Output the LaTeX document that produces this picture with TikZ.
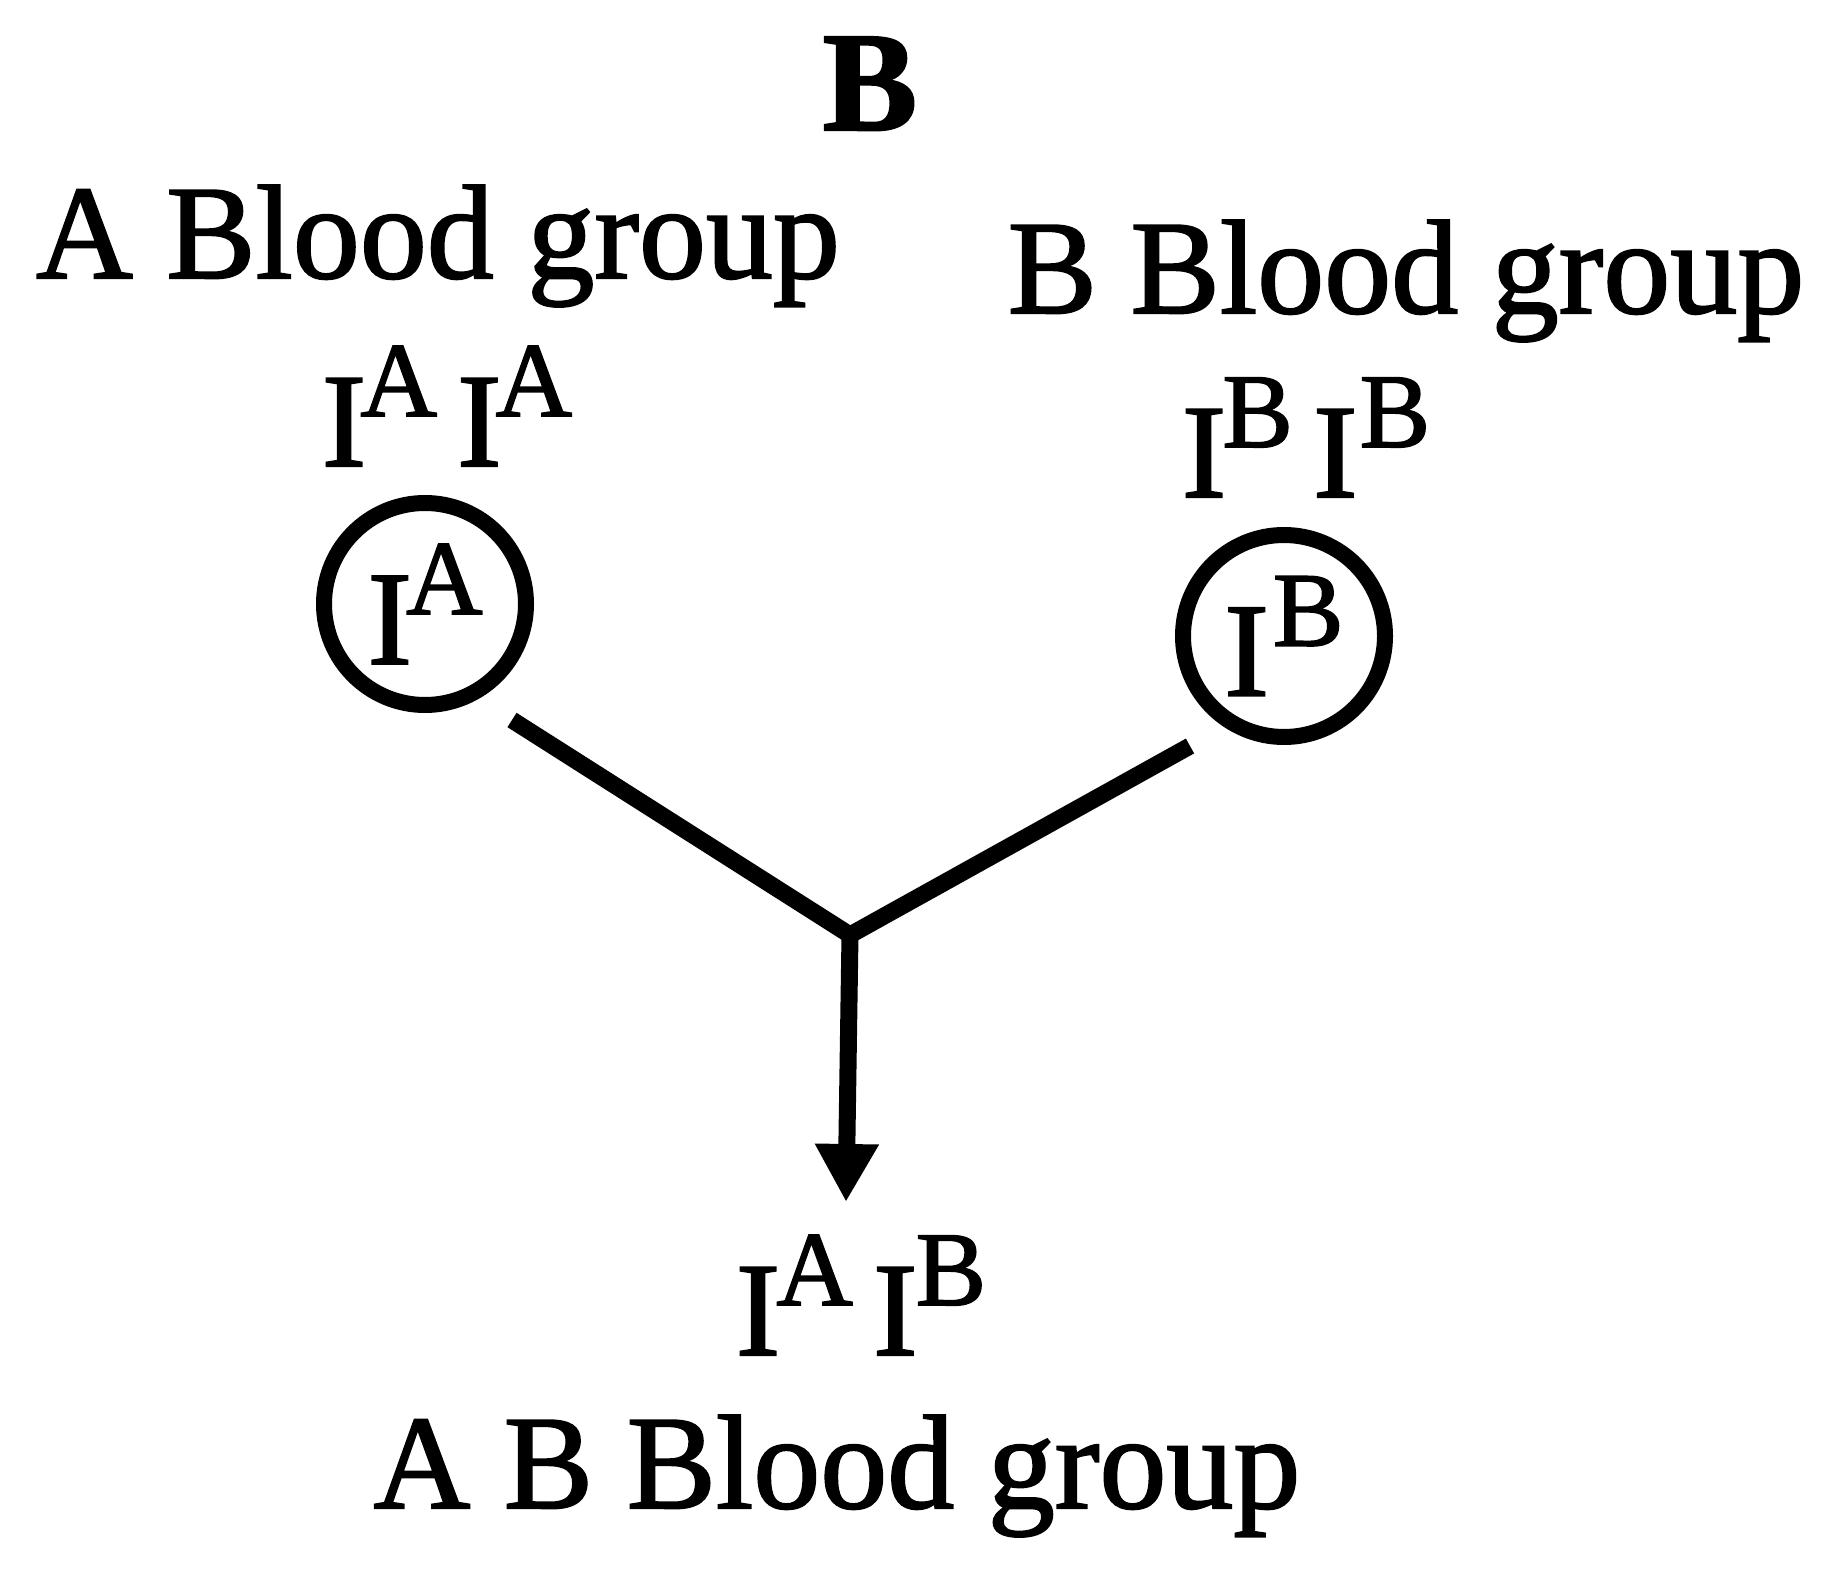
\documentclass[tikz,border=0pt]{standalone}
\usepackage{fontspec}
\setmainfont{Liberation Serif}[FakeBold=1.5]
\usetikzlibrary{arrows.meta}
\newcommand\allele[2][0pt]{I\kern#1\raisebox{25pt}{\fontsize{53}{53}\selectfont #2}}
\begin{document}
\begin{tikzpicture}[x=0.5pt,y=-0.5pt,
  lbl/.style={inner sep=0pt, anchor=base, font=\fontsize{67}{67}\selectfont},
  gene/.style={circle, draw, line width=8pt, minimum size=101pt, inner sep=0pt, font=\fontsize{67}{67}\selectfont},
  link/.style={line width=8.5pt, line join=round}]
\useasboundingbox (0,0) rectangle (1826,1572);
\node[lbl, font=\fontsize{71}{71}\selectfont\bfseries] (title) at (870,130) {B};
\node[lbl] (agrp) at (438,278) {A Blood group};
\node[lbl] (bgrp) at (1406,313) {B Blood group};
\node[lbl] (agen) at (447,466) {\allele[-3pt]{A}\hspace{10pt}\allele[-3pt]{A}};
\node[lbl] (bgen) at (1306,497) {\allele[-2pt]{B}\hspace{10pt}\allele[1pt]{B}};
\node[gene] (ca) at (425,604) {\allele[-3pt]{A}};
\node[gene] (cb) at (1284,636) {\allele[2pt]{B}};
\coordinate (la) at (512,720);
\coordinate (rb) at (1190,746);
\coordinate (j) at (850,935);
\coordinate (tip) at (846,1202);
\draw[link] (la) -- (j) -- (rb);
\draw[link, -{Triangle[width=30pt,length=29pt]}] (j) -- (tip);
\node[lbl] (ab) at (861,1355) {\allele[-2pt]{A}\hspace{10pt}\allele[-1pt]{B}};
\node[lbl] (abgrp) at (837,1508) {A B Blood group};
\end{tikzpicture}
\end{document}
